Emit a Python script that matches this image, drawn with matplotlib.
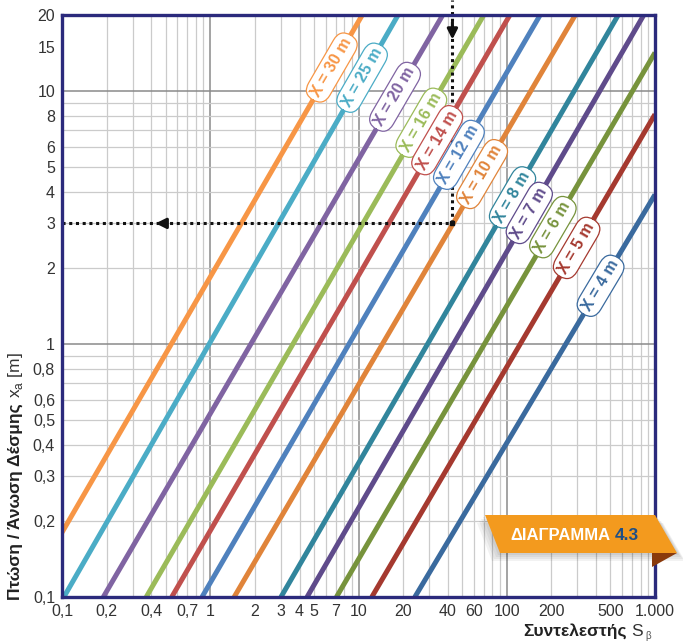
import numpy as np
import matplotlib
matplotlib.use('Agg')
import matplotlib.pyplot as plt
from matplotlib.patches import Polygon

# beam distance X [m] for each line
distances = [30, 25, 20, 16, 14, 12, 10, 8, 7, 6, 5, 4]
# first and last visible point of each line (S_b, x_a)
start_s = [0.1, 0.103, 0.19, 0.37, 0.55, 0.88, 1.45, 3.0, 4.5, 7.1, 12.3, 24.0]
start_xa = [0.18, 0.1, 0.1, 0.1, 0.1, 0.1, 0.1, 0.1, 0.1, 0.1, 0.1, 0.1]
end_s = [10.6, 18.5, 37.0, 70.0, 105.0, 168.0, 290.0, 565.0, 840.0, 1000.0, 1000.0, 1000.0]
end_xa = [20, 20, 20, 20, 20, 20, 20, 20, 20, 14.2, 8.1, 3.9]
colors = ['#F79646', '#4BACC6', '#8064A2', '#9BBB59', '#C0504D', '#4F81BD',
          '#E0843A', '#31859C', '#5F4B8B', '#77933C', '#A5392F', '#3A6A9E']
# height (x_a) at which each "X = .. m" tag sits
label_xa = [12.4, 11.3, 9.5, 7.5, 6.4, 5.6, 4.7, 3.8, 3.3, 2.9, 2.4, 1.7]

# worked example drawn with dotted lines
ex_s = 43
ex_xa = 3

xticks = [0.1, 0.2, 0.4, 0.7, 1, 2, 3, 4, 5, 7, 10, 20, 40, 60, 100, 200, 500, 1000]
xticklabels = ['0,1', '0,2', '0,4', '0,7', '1', '2', '3', '4', '5', '7', '10', '20',
               '40', '60', '100', '200', '500', '1.000']
yticks = [0.1, 0.2, 0.3, 0.4, 0.5, 0.6, 0.8, 1, 2, 3, 4, 5, 6, 8, 10, 15, 20]
yticklabels = ['0,1', '0,2', '0,3', '0,4', '0,5', '0,6', '0,8', '1', '2', '3', '4',
               '5', '6', '8', '10', '15', '20']

navy = '#2B2A7C'
W, H = 683, 644

plt.rcParams['font.family'] = ['Liberation Sans', 'DejaVu Sans']
fig = plt.figure(figsize=(W / 100, H / 100), dpi=100)
ax = fig.add_axes([62 / W, 47 / H, 593 / W, 582 / H])
ax.set_xscale('log')
ax.set_yscale('log')
ax.set_xlim(0.1, 1000)
ax.set_ylim(0.1, 20)

# grid drawn by hand: light lines every unit, darker at decades
for dec in [0.1, 1, 10, 100]:
    for k in range(1, 10):
        v = dec * k
        if k == 1 and dec > 0.1:
            ax.axvline(v, color='#8a8a8a', lw=1.1, zorder=0)
        else:
            ax.axvline(v, color='#cbcbcb', lw=0.9, zorder=0)
for dec in [0.1, 1, 10]:
    for k in range(1, 10):
        v = dec * k
        if v > 20:
            continue
        if k == 1 and dec > 0.1:
            ax.axhline(v, color='#8a8a8a', lw=1.1, zorder=0)
        else:
            ax.axhline(v, color='#cbcbcb', lw=0.9, zorder=0)

for i in range(len(distances)):
    ax.plot([start_s[i], end_s[i]], [start_xa[i], end_xa[i]], color=colors[i],
            lw=3.6, solid_capstyle='butt', zorder=2)

# tags along the lines
fig.canvas.draw()
for i in range(len(distances)):
    p0 = ax.transData.transform((start_s[i], start_xa[i]))
    p1 = ax.transData.transform((end_s[i], end_xa[i]))
    ang = np.degrees(np.arctan2(p1[1] - p0[1], p1[0] - p0[0]))
    t = (np.log10(label_xa[i]) - np.log10(start_xa[i])) / (np.log10(end_xa[i]) - np.log10(start_xa[i]))
    s = 10 ** (np.log10(start_s[i]) + t * (np.log10(end_s[i]) - np.log10(start_s[i])))
    ax.text(s, label_xa[i], 'X = %d m' % distances[i], color=colors[i], rotation=ang,
            rotation_mode='anchor', ha='center', va='center', fontsize=11.5,
            fontweight='bold', zorder=6,
            bbox=dict(boxstyle='round,pad=0.3,rounding_size=0.8', fc='white',
                      ec=colors[i], lw=0.9))

# worked example
dot = (0, (1, 1.2))
ax.plot([0.1, ex_s], [ex_xa, ex_xa], color='#111111', lw=2.2, ls=dot, zorder=5)
ax.plot([ex_s, ex_s], [ex_xa, 23], color='#111111', lw=2.2, ls=dot, zorder=5, clip_on=False)
ax.plot([ex_s], [ex_xa], marker='s', ms=3.5, color='#111111', zorder=5)
ax.annotate('', xy=(0.41, ex_xa), xytext=(0.53, ex_xa),
            arrowprops=dict(arrowstyle='-|>,head_length=0.6,head_width=0.3', color='#111111', lw=2.2),
            zorder=5)
ax.annotate('', xy=(ex_s, 15.6), xytext=(ex_s, 19.2), annotation_clip=False,
            arrowprops=dict(arrowstyle='-|>,head_length=0.6,head_width=0.3', color='#111111', lw=2.2),
            zorder=5)

ax.set_xticks(xticks)
ax.set_xticklabels(xticklabels)
ax.set_yticks(yticks)
ax.set_yticklabels(yticklabels)
ax.minorticks_off()
ax.tick_params(length=0, labelsize=11.5, colors='#333333')
ax.tick_params(axis='x', pad=5)
ax.tick_params(axis='y', pad=5)
for sp in ax.spines.values():
    sp.set_color(navy)
    sp.set_linewidth(2.4)
    sp.set_zorder(7)

# axis titles, bold part + regular part
ty1 = fig.text(20 / W, 1 - 600 / H, 'Πτώση / Άνωση Δέσμης', rotation=90, rotation_mode='anchor',
               ha='left', va='baseline', fontsize=12.5, fontweight='bold', color='#222222')
fig.canvas.draw()
bb = ty1.get_window_extent()
fig.text(20 / W, (bb.y1 + 5) / H, r'x$_\mathregular{a}$ [m]', rotation=90, rotation_mode='anchor',
         ha='left', va='baseline', fontsize=12.5, color='#333333')

fig.text(651 / W, 1 - 639 / H, 'β', ha='right', va='baseline', fontsize=7, color='#555555')
tx2 = fig.text(643 / W, 1 - 636 / H, 'S', ha='right', va='baseline', fontsize=12.5, color='#333333')
fig.canvas.draw()
bb = tx2.get_window_extent()
fig.text((bb.x0 - 4) / W, 1 - 636 / H, 'Συντελεστής', ha='right', va='baseline',
         fontsize=12.5, fontweight='bold', color='#222222')

# "ΔΙΑΓΡΑΜΜΑ 4.3" banner
def fpts(pts):
    return [(x / W, 1 - y / H) for x, y in pts]

for k in range(4):
    d = 2 + 2 * k
    fig.patches.append(Polygon(fpts([(485 - d, 515 + d), (655 + d, 515 + d), (677 + d, 553 + d),
                                     (500 - d, 553 + d)]), closed=True, transform=fig.transFigure,
                               fc='black', ec='none', alpha=0.05, zorder=8))
fig.patches.append(Polygon(fpts([(652, 553), (677, 553), (652, 567)]), closed=True,
                           transform=fig.transFigure, fc='#8A3A0C', ec='none', zorder=9))
fig.patches.append(Polygon(fpts([(485, 515), (655, 515), (677, 553), (500, 553)]), closed=True,
                           transform=fig.transFigure, fc='#F39A1E', ec='none', zorder=10))
fig.text(510 / W, 1 - 540 / H, 'ΔΙΑΓΡΑΜΜΑ', color='white', fontsize=12, fontweight='bold',
         ha='left', va='baseline', zorder=11)
fig.text(615 / W, 1 - 540 / H, '4.3', color='#1E4F86', fontsize=12.5, fontweight='bold',
         ha='left', va='baseline', zorder=11)

fig.savefig('out.png', dpi=100, facecolor='white')
